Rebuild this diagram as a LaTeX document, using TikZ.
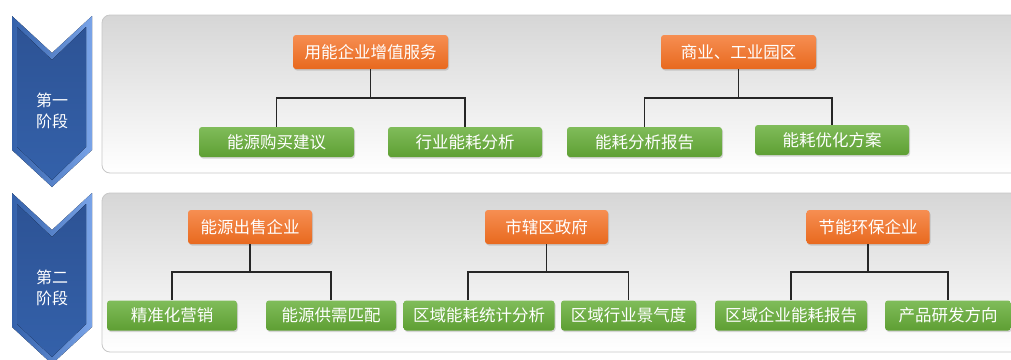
\documentclass[tikz,border=0pt]{standalone}
\usepackage{fontspec}
\newfontfamily\cjkfont{Noto Sans CJK SC}
\usepackage{tikz}
\usetikzlibrary{positioning}
\usetikzlibrary{calc,shadows}

\definecolor{orgTop}{HTML}{F68E52}
\definecolor{orgBot}{HTML}{E8691E}
\definecolor{leafTop}{HTML}{80BC5A}
\definecolor{leafBot}{HTML}{5E9F33}
\definecolor{arrowDark}{HTML}{2D5395}
\definecolor{arrowMid}{HTML}{3461AA}
\definecolor{arrowLight}{HTML}{7AA4E8}

\tikzset{
	orgbox/.style={rectangle, rounded corners=3pt, top color=orgTop, bottom color=orgBot,
		text=white, font=\cjkfont\fontsize{16.5}{18}\selectfont, minimum height=34pt,
		inner sep=0pt, drop shadow={shadow xshift=1pt, shadow yshift=-1.5pt, opacity=.3}},
	leafbox/.style={rectangle, rounded corners=3pt, top color=leafTop, bottom color=leafBot,
		text=white, font=\cjkfont\fontsize{16.5}{18}\selectfont, minimum height=30pt,
		inner sep=0pt, drop shadow={shadow xshift=1pt, shadow yshift=-1.5pt, opacity=.3}},
	panel/.style={rounded corners=8pt, draw=black!22, line width=.8pt,
		top color=black!16, middle color=white!97!black, bottom color=white},
	tree/.style={line width=1.1pt, black!85},
	phase/.style={text=white, font=\cjkfont\fontsize{16}{21}\selectfont, align=center}
}

\begin{document}
\begin{tikzpicture}[x=1pt, y=-1pt]

	% page frame, same size as the reference
	\useasboundingbox (0,0) rectangle (1011,359);

	% the two grey panels run off the right edge
	\draw[panel] (102,15) rectangle (1040,173);
	\draw[panel] (102,193) rectangle (1040,352);

	% chevrons: outer bevel, then the darker face
	\foreach \dy in {0,177}{
		\fill[left color=arrowMid, right color=arrowLight]
			(12,16+\dy) -- (52,53+\dy) -- (92,16+\dy) -- (92,150+\dy) -- (52,187+\dy) -- (12,150+\dy) -- cycle;
		\fill[top color=arrowDark, bottom color=arrowMid]
			(17,27+\dy) -- (52,60+\dy) -- (86,27+\dy) -- (86,147+\dy) -- (52,180+\dy) -- (17,147+\dy) -- cycle;
	}
	\node[phase] (P1) at (52,111) {第一\\阶段};
	\node[phase] (P2) at (52,288) {第二\\阶段};

	%%%%%%%%%%%%%%%%%%%%%%%%%%%%%%%%%%%%%%%%%%%%%%%%%%%%%%%%%%%%%%
	% stage one
	\node[orgbox, minimum width=155pt] (Svc)  at (370.5,52) {用能企业增值服务};
	\node[orgbox, minimum width=155pt] (Park) at (738.5,52) {商业、工业园区};

	\node[leafbox, minimum width=155pt] (Buy) at (276.5,142) {能源购买建议};
	\node[leafbox, minimum width=154pt] (Ind) at (465,142)   {行业能耗分析};
	\node[leafbox, minimum width=155pt] (Rpt) at (644.5,142) {能耗分析报告};
	\node[leafbox, minimum width=154pt] (Opt) at (832,140)   {能耗优化方案};

	\coordinate (J1) at (370.5,98);
	\coordinate (J2) at (738.5,98);
	\draw[tree] (Svc.south) -- (J1);
	\draw[tree] (Buy.north) |- (J1) -| (Ind.north);
	\draw[tree] (Park.south) -- (J2);
	\draw[tree] (Rpt.north) |- (J2) -| (Opt.north);

	%%%%%%%%%%%%%%%%%%%%%%%%%%%%%%%%%%%%%%%%%%%%%%%%%%%%%%%%%%%%%%
	% stage two
	\node[orgbox, minimum width=124pt] (Sell) at (250,227)   {能源出售企业};
	\node[orgbox, minimum width=123pt] (Gov)  at (546.5,227) {市辖区政府};
	\node[orgbox, minimum width=123pt] (Eco)  at (868,227)   {节能环保企业};

	\node[leafbox, minimum width=130pt] (Mkt)    at (172,315.5)   {精准化营销};
	\node[leafbox, minimum width=130pt] (Match)  at (331,315.5)   {能源供需匹配};
	\node[leafbox, minimum width=151pt] (Stat)   at (479,315.5)   {区域能耗统计分析};
	\node[leafbox, minimum width=135pt] (Boom)   at (628.5,315.5) {区域行业景气度};
	\node[leafbox, minimum width=152pt] (EntRpt) at (791,315.5)   {区域企业能耗报告};
	\node[leafbox, minimum width=126pt] (Dev)    at (948,315.5)   {产品研发方向};

	\coordinate (J3) at (250,272);
	\coordinate (J4) at (546.5,272);
	\coordinate (J5) at (868,272);
	\draw[tree] (Sell.south) -- (J3);
	\draw[tree] (Mkt.north) |- (J3) -| (Match.north);
	\draw[tree] (Gov.south) -- (J4);
	\draw[tree] ([xshift=-11pt]Stat.north) |- (J4) -| (Boom.north);
	\draw[tree] (Eco.south) -- (J5);
	\draw[tree] (EntRpt.north) |- (J5) -| (Dev.north);

\end{tikzpicture}
\end{document}
